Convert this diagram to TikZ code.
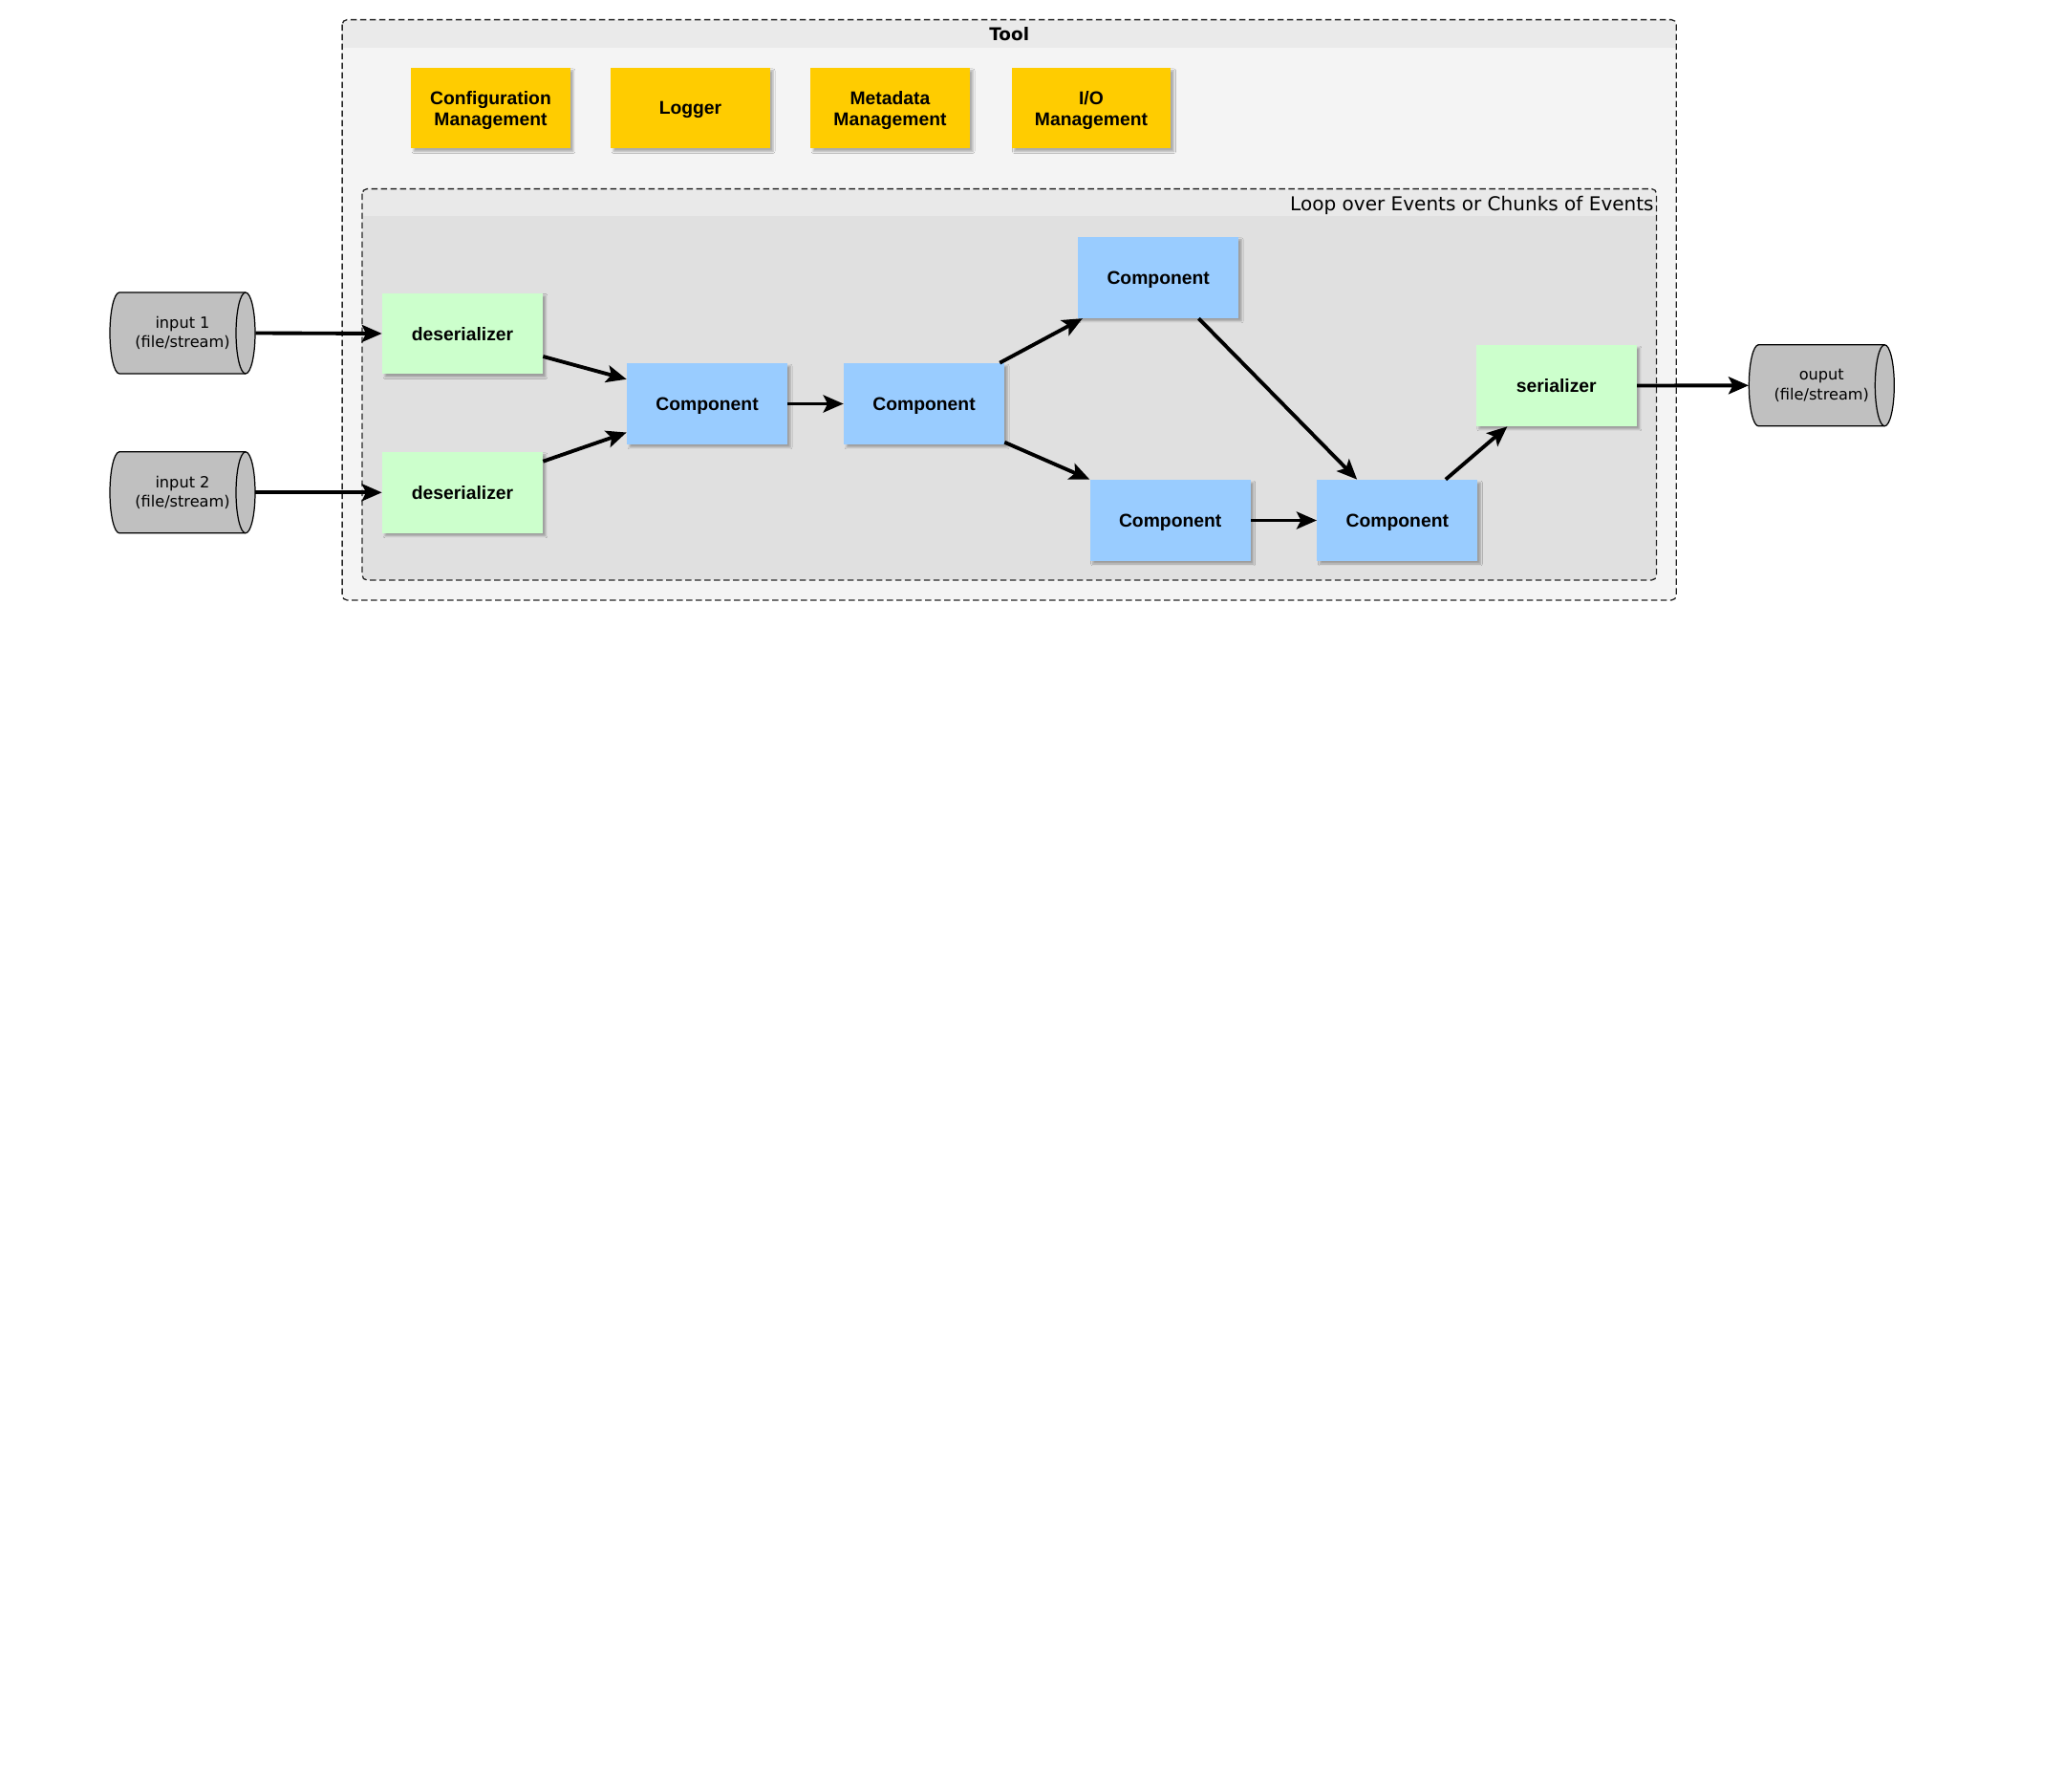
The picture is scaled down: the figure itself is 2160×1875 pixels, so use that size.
\documentclass[tikz,border=0pt]{standalone}
\usepackage{fontspec}
\setmainfont{Liberation Sans}
\newfontfamily\dejavu{DejaVu Sans}
\usetikzlibrary{arrows.meta,calc,shadows.blur}
\definecolor{compblue}{HTML}{99CCFF}
\definecolor{sergreen}{HTML}{CCFFCC}
\definecolor{svcyellow}{HTML}{FFCC00}
\definecolor{cylgray}{HTML}{C0C0C0}
\definecolor{toolbody}{HTML}{F4F4F4}
\definecolor{toolhead}{HTML}{EAEAEA}
\definecolor{loopbody}{HTML}{E0E0E0}
\definecolor{loophead}{HTML}{E9E9E9}
\newcommand\boxfont{\bfseries\fontsize{11pt}{12.6pt}\selectfont}
\newcommand\cylfont{\dejavu\fontsize{9.2pt}{11.8pt}\selectfont}
\newcommand\loopfont{\dejavu\fontsize{11.4pt}{13pt}\selectfont}
\newcommand\toolfont{\dejavu\bfseries\fontsize{10.5pt}{12pt}\selectfont}
\newcommand\cylbody[1]{%
  \draw[cylline] ([shift={(-66,-42.5)}]#1) -- ([shift={(66,-42.5)}]#1)
    arc[start angle=90, end angle=-90, x radius=0.2cm, y radius=0.85cm]
    -- ([shift={(-66,42.5)}]#1)
    arc[start angle=270, end angle=90, x radius=0.2cm, y radius=0.85cm] -- cycle;
  \draw[line width=0.7pt] ([shift={(66,-42.5)}]#1)
    arc[start angle=90, end angle=270, x radius=0.2cm, y radius=0.85cm];}
\tikzset{
  box/.style={rectangle, minimum width=3.36cm, minimum height=1.7cm, inner sep=0pt,
    font=\boxfont, align=center, text depth=0pt,
    blur shadow={shadow xshift=0.06cm, shadow yshift=-0.06cm, shadow blur radius=0.04cm, shadow opacity=30}},
  comp/.style={box, fill=compblue},
  serbox/.style={box, fill=sergreen},
  svc/.style={box, fill=svcyellow, minimum width=3.34cm, minimum height=1.69cm},
  cylnode/.style={rectangle, minimum width=3.04cm, minimum height=1.7cm, inner sep=0pt,
    font=\cylfont, align=center},
  cylline/.style={draw=black, line width=0.7pt, fill=cylgray},
  flow/.style={-{Stealth[length=0.42cm,width=0.36cm,inset=0.09cm]}, line width=2.2pt},
  container/.style={rectangle, inner sep=0pt, rounded corners=0.1cm},
  dashframe/.style={draw=black!85, line width=0.75pt, dash pattern=on 0.13cm off 0.07cm, rounded corners=0.1cm},
}
\begin{document}
\begin{tikzpicture}[x=0.02cm, y=-0.02cm]
\useasboundingbox (0,0) rectangle (2160,1875);
\fill[white] (0,0) rectangle (2160,1875);

% Tool container
\node[container, fill=toolbody, minimum width=27.914cm, minimum height=12.134cm] (tool) at (1056.2,324.3) {};
\begin{scope}
  \clip[rounded corners=0.1cm] (tool.north west) rectangle (tool.south east);
  \fill[toolhead] (tool.north west) rectangle ([yshift=-0.58cm]tool.north east);
\end{scope}
\draw[dashframe] (tool.north west) rectangle (tool.south east);
\node[font=\toolfont, inner sep=0pt] (toollabel) at (1056.2,35.5) {Tool};

% Loop container
\node[container, fill=loopbody, minimum width=27.08cm, minimum height=8.174cm] (loop) at (1056.3,402.3) {};
\begin{scope}
  \clip[rounded corners=0.1cm] (loop.north west) rectangle (loop.south east);
  \fill[loophead] (loop.north west) rectangle ([yshift=-0.574cm]loop.north east);
\end{scope}
\draw[dashframe] (loop.north west) rectangle (loop.south east);
\node[font=\loopfont, inner sep=0pt, anchor=east] (looplabel) at (1731,214.5) {Loop over Events or Chunks of Events};

% Services
\node[svc] (conf) at (513.5,113.2) {Configuration\\Management};
\node[svc] (logger) at (722.5,113.2) {Logger};
\node[svc] (meta) at (931.5,113.2) {Metadata\\Management};
\node[svc] (io) at (1142,113.2) {I/O\\Management};

% Inputs / output (cylinders)
\coordinate (in1c) at (191,348.5);
\coordinate (in2c) at (191,515.3);
\coordinate (outc) at (1906.3,403.3);
\cylbody{in1c}
\cylbody{in2c}
\cylbody{outc}
\node[cylnode] (in1) at (in1c) {input 1\\(file/stream)};
\node[cylnode] (in2) at (in2c) {input 2\\(file/stream)};
\node[cylnode] (out) at (outc) {ouput\\(file/stream)};

% Processing nodes
\node[serbox] (des1) at (484,349) {deserializer};
\node[serbox] (des2) at (484,515.3) {deserializer};
\node[comp] (cA) at (740,422.5) {Component};
\node[comp] (cB) at (967,422.5) {Component};
\node[comp] (cC) at (1212.2,290.3) {Component};
\node[comp] (cD) at (1224.7,544.5) {Component};
\node[comp] (cE) at (1462.3,544.5) {Component};
\node[serbox] (ser) at (1628.8,403.5) {serializer};

% Connectors
\draw[flow] (in1.east) -- (des1.west);
\draw[flow] (in2.east) -- (des2.west);
\draw[flow] ($(des1.north east)!0.78!(des1.south east)$) -- ($(cA.north west)!0.2!(cA.south west)$);
\draw[flow] ($(des2.north east)!0.12!(des2.south east)$) -- ($(cA.north west)!0.85!(cA.south west)$);
\draw[flow] (cA.east) -- (cB.west);
\draw[flow] ($(cB.north west)!0.97!(cB.north east)$) -- ($(cC.south west)!0.03!(cC.south east)$);
\draw[flow] ($(cB.north east)!0.97!(cB.south east)$) -- (cD.north west);
\draw[flow] ($(cC.south west)!0.75!(cC.south east)$) -- ($(cE.north west)!0.25!(cE.north east)$);
\draw[flow] (cD.east) -- (cE.west);
\draw[flow] ($(cE.north west)!0.8!(cE.north east)$) -- ($(ser.south west)!0.195!(ser.south east)$);
\draw[flow] (ser.east) -- (out.west);
\end{tikzpicture}
\end{document}
